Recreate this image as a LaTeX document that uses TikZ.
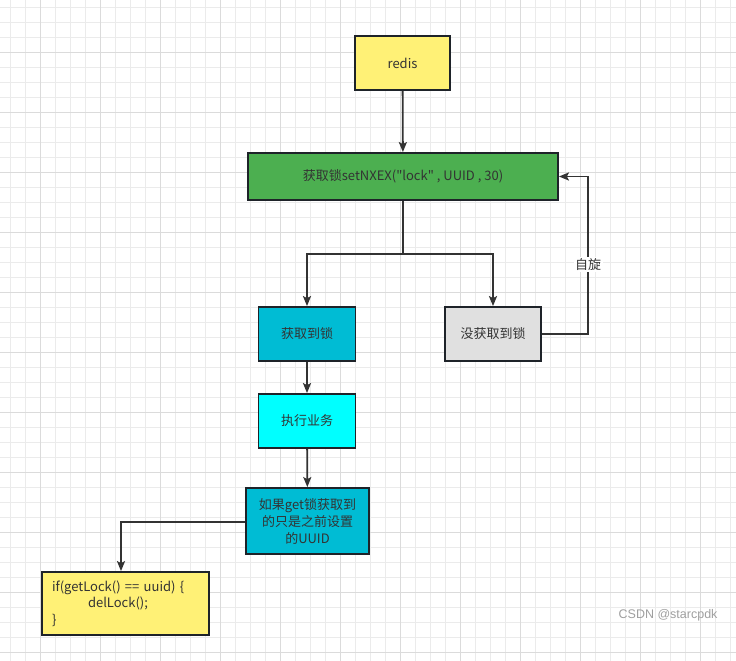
\documentclass[tikz,border=0pt]{standalone}
\usepackage{fontspec}
\newfontfamily\cjkfont{Noto Sans CJK SC}
\newfontfamily\wmfont{Liberation Sans}
\usepackage{xcolor}
\usepackage{tikz}
\usetikzlibrary{arrows.meta,calc}
\definecolor{ylw}{HTML}{FFF176}
\definecolor{grn}{HTML}{4CAF50}
\definecolor{blu}{HTML}{00BCD4}
\definecolor{cyn}{HTML}{00FFFF}
\definecolor{gry}{HTML}{E0E0E0}
\definecolor{ink}{HTML}{333333}
\definecolor{edge}{HTML}{1E2329}
\definecolor{gridc}{HTML}{EBEBEB}

\begin{document}
\begin{tikzpicture}[x=1pt, y=-1pt,
  box/.style={draw=edge, line width=1.8pt, text=ink, align=center, inner sep=2pt,
    font=\cjkfont\fontsize{13}{17}\selectfont},
  flow/.style={draw=ink, line width=1.8pt, -{Stealth[length=10pt,width=8pt,inset=2pt]}},
  lbl/.style={fill=white, text=ink, inner sep=1.5pt, font=\cjkfont\fontsize{13}{17}\selectfont}]
\useasboundingbox (0,0) rectangle (736,661);
% background grid
\foreach \gx in {0,...,48} \draw[gridc, line width=0.6pt] (10.7+15*\gx,0) -- (10.7+15*\gx,661);
\foreach \gy in {0,...,43} \draw[gridc, line width=0.6pt] (0,7.3+15*\gy) -- (736,7.3+15*\gy);
\foreach \gx in {0,...,12} \draw[gridc!85!gray, line width=0.8pt] (40.7+60*\gx,0) -- (40.7+60*\gx,661);
\foreach \gy in {0,...,10} \draw[gridc!85!gray, line width=0.8pt] (0,52.3+60*\gy) -- (736,52.3+60*\gy);

\node[box, fill=ylw, minimum width=95pt, minimum height=54pt] (redis) at (402.5,63) {redis};
\node[box, fill=grn, minimum width=310pt, minimum height=47pt] (lock) at (403,176.5) {获取锁setNXEX("lock" , UUID , 30)};
\node[box, fill=blu, minimum width=97pt, minimum height=54pt] (got) at (307,334) {获取到锁};
\node[box, fill=gry, minimum width=96pt, minimum height=54pt] (notgot) at (493,334) {没获取到锁};
\node[box, fill=cyn, minimum width=97pt, minimum height=54pt] (work) at (307,421) {执行业务};
\node[box, fill=blu, minimum width=123pt, minimum height=66pt] (check) at (307.5,521)
  {如果get锁获取到\\的只是之前设置\\的UUID};
\node[box, fill=ylw, minimum width=167pt, minimum height=63pt, text width=147pt, align=left] (code) at (125.5,603.5)
  {if(getLock() == uuid) \{\\[-0.5pt]\hspace*{36pt}delLock();\\[-0.5pt]\}};
\node[text=gray!75, font=\wmfont\fontsize{12.5}{14}\selectfont, anchor=east] (wm) at (721,615) {CSDN @starcpdk};

\coordinate (split) at (403,254);
\coordinate (spin) at (588,334);
\coordinate (turn) at (121,522);

\draw[flow] (redis) -- (lock);
\draw[flow] (lock) -- (split) -| (got);
\draw[flow] (split) -| (notgot);
\draw[flow] (notgot) -- (spin) |- node[lbl, pos=0.22] (spinlbl) {自旋} (lock);
\draw[flow] (got) -- (work);
\draw[flow] (work) -- (check);
\draw[flow] (check.west |- turn) -- (turn) -- (turn |- code.north);
\end{tikzpicture}
\end{document}
